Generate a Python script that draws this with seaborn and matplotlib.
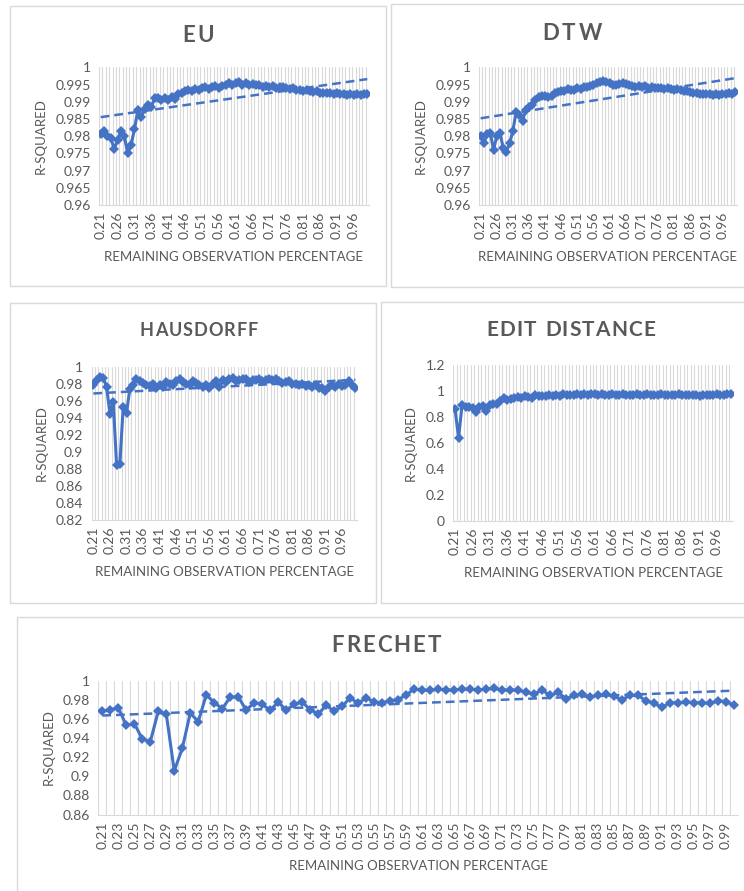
import numpy as np
import pandas as pd
import matplotlib
matplotlib.use("Agg")
import matplotlib.pyplot as plt
from matplotlib.patches import Rectangle
import seaborn as sns

sns.set_theme(style="white")
plt.rcParams['font.family'] = ['Lato', 'DejaVu Sans']

# ---------------- data ----------------
pct = [round((21 + i) / 100, 2) for i in range(80)]  # 0.21 ... 1.00

eu = [0.9805, 0.9815, 0.9800, 0.9795, 0.9762, 0.9790, 0.9815, 0.9800, 0.9750, 0.9775,
      0.9820, 0.9875, 0.9855, 0.9880, 0.9890, 0.9885, 0.9910, 0.9910, 0.9905, 0.9912,
      0.9905, 0.9915, 0.9908, 0.9922, 0.9925, 0.9930, 0.9935, 0.9930, 0.9938, 0.9935,
      0.9940, 0.9942, 0.9938, 0.9944, 0.9945, 0.9940, 0.9946, 0.9950, 0.9955, 0.9950,
      0.9955, 0.9958, 0.9950, 0.9953, 0.9948, 0.9952, 0.9950, 0.9948, 0.9944, 0.9947,
      0.9942, 0.9945, 0.9940, 0.9943, 0.9944, 0.9940, 0.9937, 0.9940, 0.9935, 0.9933,
      0.9932, 0.9934, 0.9930, 0.9928, 0.9930, 0.9925, 0.9926, 0.9924, 0.9926, 0.9923,
      0.9924, 0.9921, 0.9922, 0.9920, 0.9921, 0.9919, 0.9921, 0.9920, 0.9921, 0.9923]

dtw = [0.9800, 0.9780, 0.9805, 0.9810, 0.9760, 0.9800, 0.9810, 0.9765, 0.9755, 0.9780,
       0.9815, 0.9870, 0.9860, 0.9845, 0.9875, 0.9885, 0.9890, 0.9905, 0.9915, 0.9918,
       0.9917, 0.9915, 0.9918, 0.9925, 0.9928, 0.9932, 0.9930, 0.9936, 0.9935, 0.9934,
       0.9940, 0.9938, 0.9944, 0.9944, 0.9946, 0.9950, 0.9953, 0.9957, 0.9960, 0.9958,
       0.9955, 0.9950, 0.9948, 0.9952, 0.9955, 0.9952, 0.9948, 0.9945, 0.9944, 0.9946,
       0.9944, 0.9945, 0.9940, 0.9942, 0.9940, 0.9941, 0.9940, 0.9938, 0.9940, 0.9937,
       0.9935, 0.9937, 0.9934, 0.9930, 0.9932, 0.9928, 0.9925, 0.9924, 0.9922, 0.9922,
       0.9921, 0.9922, 0.9920, 0.9921, 0.9920, 0.9922, 0.9921, 0.9924, 0.9922, 0.9928]

hausdorff = [0.9785, 0.9840, 0.9880, 0.9870, 0.9760, 0.9450, 0.9590, 0.8850, 0.8860, 0.9530,
             0.9460, 0.9740, 0.9780, 0.9850, 0.9830, 0.9810, 0.9790, 0.9770, 0.9800, 0.9750,
             0.9790, 0.9760, 0.9820, 0.9800, 0.9790, 0.9830, 0.9850, 0.9820, 0.9800, 0.9790,
             0.9830, 0.9810, 0.9790, 0.9760, 0.9780, 0.9750, 0.9800, 0.9830, 0.9760, 0.9840,
             0.9820, 0.9850, 0.9870, 0.9830, 0.9840, 0.9860, 0.9850, 0.9820, 0.9840, 0.9840,
             0.9850, 0.9830, 0.9840, 0.9860, 0.9840, 0.9850, 0.9830, 0.9810, 0.9820, 0.9830,
             0.9800, 0.9800, 0.9780, 0.9800, 0.9770, 0.9790, 0.9760, 0.9780, 0.9750, 0.9750,
             0.9720, 0.9760, 0.9780, 0.9760, 0.9800, 0.9770, 0.9790, 0.9830, 0.9780, 0.9750]

edit_distance = [0.860, 0.640, 0.890, 0.875, 0.880, 0.870, 0.840, 0.880, 0.885, 0.850,
                 0.890, 0.900, 0.900, 0.920, 0.945, 0.930, 0.940, 0.950, 0.955, 0.950,
                 0.960, 0.955, 0.950, 0.970, 0.965, 0.965, 0.960, 0.970, 0.965, 0.970,
                 0.965, 0.975, 0.970, 0.970, 0.970, 0.975, 0.970, 0.975, 0.970, 0.975,
                 0.975, 0.970, 0.975, 0.972, 0.968, 0.975, 0.970, 0.972, 0.975, 0.970,
                 0.968, 0.972, 0.975, 0.970, 0.972, 0.975, 0.970, 0.968, 0.972, 0.975,
                 0.970, 0.972, 0.968, 0.970, 0.975, 0.970, 0.972, 0.968, 0.970, 0.972,
                 0.965, 0.970, 0.972, 0.968, 0.970, 0.975, 0.972, 0.970, 0.975, 0.980]

frechet = [0.9680, 0.9695, 0.9715, 0.9530, 0.9550, 0.9390, 0.9360, 0.9680, 0.9650, 0.9056,
           0.9290, 0.9660, 0.9570, 0.9850, 0.9770, 0.9705, 0.9826, 0.9830, 0.9690, 0.9770,
           0.9750, 0.9690, 0.9775, 0.9690, 0.9750, 0.9775, 0.9695, 0.9650, 0.9740, 0.9680,
           0.9730, 0.9820, 0.9760, 0.9820, 0.9775, 0.9766, 0.9790, 0.9800, 0.9850, 0.9910,
           0.9900, 0.9896, 0.9910, 0.9900, 0.9900, 0.9910, 0.9910, 0.9900, 0.9910, 0.9917,
           0.9900, 0.9900, 0.9900, 0.9875, 0.9860, 0.9900, 0.9844, 0.9875, 0.9810, 0.9844,
           0.9854, 0.9830, 0.9844, 0.9854, 0.9833, 0.9800, 0.9844, 0.9844, 0.9788, 0.9760,
           0.9720, 0.9767, 0.9767, 0.9777, 0.9767, 0.9767, 0.9760, 0.9788, 0.9777, 0.9743]

# ---------------- style ----------------
W, H = 744, 891
BLUE = "#4472C4"
GRID = "#D9D9D9"
TXT = "#595959"

fig = plt.figure(figsize=(W / 100, H / 100), dpi=100)
renderer = fig.canvas.get_renderer()


def fx(x):
    return x / W


def fy(y):
    return 1 - y / H


def box(x0, y0, x1, y1):
    fig.add_artist(Rectangle((fx(x0), fy(y1)), (x1 - x0) / W, (y1 - y0) / H,
                             transform=fig.transFigure, fill=False,
                             ec=GRID, lw=1.0))


def axes_px(x0, y0, x1, y1):
    return fig.add_axes([fx(x0), fy(y1), (x1 - x0) / W, (y1 - y0) / H])


def spaced_title(cx, cy, s, size, spacing):
    """Draw a bold title with extra letter spacing (in pixels), centred at (cx, cy)."""
    widths = []
    for ch in s:
        t = fig.text(0, 0, ch if ch != " " else "-", fontsize=size, fontweight="bold")
        w = t.get_window_extent(renderer).width
        if ch == " ":
            w *= 0.75
        widths.append(w)
        t.remove()
    total = sum(widths) + spacing * (len(s) - 1)
    x = cx - total / 2
    for ch, w in zip(s, widths):
        if ch != " ":
            fig.text(fx(x), fy(cy), ch, ha="left", va="center", fontsize=size,
                     fontweight="bold", color=TXT)
        x += w + spacing


def panel(ax, values, ylim, yticks, step, trend=True):
    df = pd.DataFrame({"pct": pct, "r2": values})
    sns.lineplot(data=df, x="pct", y="r2", ax=ax, color=BLUE, lw=2.2,
                 marker="D", markersize=5.5, markeredgewidth=0, zorder=3)
    if trend:
        sns.regplot(data=df, x="pct", y="r2", ax=ax, scatter=False, ci=None,
                    line_kws=dict(color=BLUE, lw=1.8, ls=(0, (3.5, 2.0)), zorder=4))
    ax.set_xlim(pct[0] - 0.005, pct[-1] + 0.005)
    ax.set_ylim(*ylim)
    bounds = [p - 0.005 for p in pct] + [pct[-1] + 0.005]
    ax.set_xticks(bounds, minor=True)
    ax.set_xticks(pct[::step])
    ax.set_xticklabels([f"{p:.2f}" for p in pct[::step]], rotation=90,
                       fontsize=10, color=TXT)
    ax.set_yticks(yticks)
    ax.set_yticklabels([f"{round(v, 4):g}" for v in yticks], fontsize=10, color=TXT)
    ax.tick_params(axis="both", which="both", length=0)
    ax.tick_params(axis="x", pad=5)
    ax.tick_params(axis="y", pad=6)
    ax.grid(False)
    ax.grid(True, which="minor", axis="x", color=GRID, lw=0.8)
    for s in ["top", "right", "left"]:
        ax.spines[s].set_visible(False)
    ax.spines["bottom"].set_color(GRID)
    ax.spines["bottom"].set_linewidth(0.8)
    ax.set_xlabel("REMAINING OBSERVATION PERCENTAGE", fontsize=9.5, color=TXT, labelpad=8)
    ax.set_ylabel("R-SQUARED", fontsize=9.5, color=TXT, labelpad=6)
    ax.set_facecolor("white")


# panel borders
box(10, 6, 386, 286)
box(390.7, 4, 760, 287)
box(10, 303, 376, 602.7)
box(380.7, 301.7, 760, 603)
box(17.3, 617.3, 760, 900)

# EU
ax1 = axes_px(99, 67.3, 369, 205)
panel(ax1, eu, (0.96, 1.0), [0.96 + 0.005 * k for k in range(9)], 5)
spaced_title(198, 36, "EU", 16, 2.5)

# DTW
ax2 = axes_px(479, 67.3, 737, 205)
panel(ax2, dtw, (0.96, 1.0), [0.96 + 0.005 * k for k in range(9)], 5)
spaced_title(572, 34, "DTW", 16, 3)

# HAUSDORFF
ax3 = axes_px(91.7, 366.7, 357, 520)
panel(ax3, hausdorff, (0.82, 1.0), [0.82 + 0.02 * k for k in range(10)], 5)
spaced_title(199, 331, "HAUSDORFF", 13, 1.0)

# EDIT DISTANCE
ax4 = axes_px(453.3, 365, 732.7, 521)
panel(ax4, edit_distance, (0.0, 1.2), [0.2 * k for k in range(7)], 5, trend=False)
spaced_title(571, 330, "EDIT DISTANCE", 15, 1.2)

# FRECHET
ax5 = axes_px(98.3, 680.5, 738, 814.5)
panel(ax5, frechet, (0.86, 1.0), [0.86 + 0.02 * k for k in range(8)], 2)
spaced_title(386, 646, "FRECHET", 16, 2.0)

fig.savefig("out.png", dpi=100, facecolor="white")
